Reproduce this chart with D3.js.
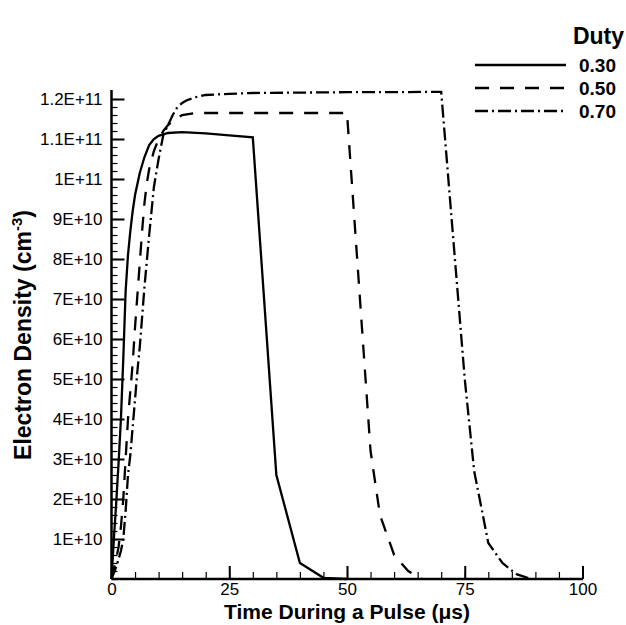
<!DOCTYPE html>
<html><head><meta charset="utf-8">
<script src="https://cdn.jsdelivr.net/npm/d3@7"></script>
<style>
body{margin:0;background:#fff;}
svg{display:block;font-family:"Liberation Sans",Arial,Helvetica,sans-serif;}
</style></head>
<body>
<svg id="c" width="626" height="625"></svg>
<script>
// ---- data ----
const dutyLabels = ["0.30","0.50","0.70"];
const time030 = [0,0.5,1,1.5,2,2.5,3,3.5,4,4.5,5,6,7,8,9,10,12,15,20,25,30,35,40,45,50];
const dens030 = [0,1.0,1.9,2.9,4.0,5.5,7.2,8.1,8.7,9.2,9.6,10.15,10.55,10.85,11.0,11.08,11.15,11.17,11.14,11.09,11.04,2.6,0.4,0.03,0];
const time050 = [0,1,1.5,2,2.5,3,3.5,4,4.5,5,5.5,6,6.5,7,7.5,8,9,10,11,12,13,15,18,20,30,40,50,55,57,60,63,65,66];
const dens050 = [0,0.5,0.8,1.3,2.0,3.0,4.0,4.7,5.4,6.3,7.1,7.9,8.7,9.4,9.9,10.25,10.7,11.0,11.2,11.35,11.45,11.6,11.65,11.65,11.65,11.65,11.65,3.2,1.6,0.6,0.2,0.05,0];
const time070 = [0,1,2,2.5,3,3.5,4,4.5,5,5.5,6,7,8,9,10,11,12,13,14,15,16,18,20,25,30,40,50,60,70,75,77,80,83,86,89];
const dens070 = [0,0.3,0.7,1.0,1.7,2.6,3.1,3.8,4.5,5.2,5.8,7.3,8.6,9.8,10.5,11.1,11.35,11.6,11.8,11.9,11.97,12.05,12.1,12.13,12.15,12.16,12.17,12.17,12.18,5.0,2.7,0.9,0.4,0.12,0];
const yTickValues = [1,2,3,4,5,6,7,8,9,10,11,12]; // in units of 1E+10
const yTickLabels = ["1E+10","2E+10","3E+10","4E+10","5E+10","6E+10","7E+10","8E+10","9E+10","1E+11","1.1E+11","1.2E+11"];
const xTickValues = [0,25,50,75,100];
const xTickLabels = ["0","25","50","75","100"];
const xTitle = "Time During a Pulse (\u03bcs)";
const legendTitle = "Duty";

const series = [
  {label: dutyLabels[0], t: time030, v: dens030, dash: null},
  {label: dutyLabels[1], t: time050, v: dens050, dash: "14,11"},
  {label: dutyLabels[2], t: time070, v: dens070, dash: "13,4,2,4"}
];

const svg = d3.select("#c");
const x = d3.scaleLinear().domain([0,100]).range([111.5,582.5]);
const y = d3.scaleLinear().domain([0,12.2]).range([579,91]);

// minor ticks
const gMinorY = svg.append("g").attr("transform","translate(111.5,0)")
  .call(d3.axisLeft(y).tickValues(d3.range(0,12.01,0.2)).tickSize(-6).tickFormat(""));
const gMinorX = svg.append("g").attr("transform","translate(0,579)")
  .call(d3.axisBottom(x).tickValues(d3.range(0,100.1,5)).tickSize(-7).tickFormat(""));
[gMinorY,gMinorX].forEach(g=>{g.select(".domain").remove(); g.selectAll("line").attr("stroke","#000").attr("stroke-width",1.2);});

// major axes
const gy = svg.append("g").attr("transform","translate(111.5,0)")
  .call(d3.axisLeft(y).tickValues(yTickValues).tickSize(-13).tickPadding(9)
    .tickFormat((d,i)=>yTickLabels[i]));
const gx = svg.append("g").attr("transform","translate(0,579)")
  .call(d3.axisBottom(x).tickValues(xTickValues).tickSize(-13).tickPadding(4)
    .tickFormat((d,i)=>xTickLabels[i]));
[gy,gx].forEach(g=>{
  g.select(".domain").attr("stroke","#000").attr("stroke-width",2.5);
  g.selectAll(".tick line").attr("stroke","#000").attr("stroke-width",2);
  g.selectAll(".tick text").attr("fill","#000").style("font-size","17px").style("font-family","'Liberation Sans',Arial,sans-serif");
});
gy.select(".domain").attr("d","M0,579V90");
gx.select(".domain").attr("d","M111.5,0H583");

// curves
const line = d3.line().x(d=>x(d[0])).y(d=>y(d[1]));
series.forEach(s=>{
  svg.append("path")
    .datum(s.t.map((t,i)=>[t,s.v[i]]))
    .attr("d",line).attr("fill","none").attr("stroke","#000")
    .attr("stroke-width",2.3).attr("stroke-dasharray",s.dash);
});

// titles
svg.append("text").attr("x",347).attr("y",619).attr("text-anchor","middle")
  .style("font-size","21px").style("font-weight","bold").text(xTitle);
const yt = svg.append("text").attr("transform","translate(31,335) rotate(-90)")
  .attr("text-anchor","middle").style("font-size","23px").style("font-weight","bold");
yt.append("tspan").text("Electron Density (cm");
yt.append("tspan").attr("dy",-9).style("font-size","15px").text("-3");
yt.append("tspan").attr("dy",9).text(")");

// legend
svg.append("text").attr("x",624).attr("y",44).attr("text-anchor","end")
  .style("font-size","23px").style("font-weight","bold").text(legendTitle);
const legY = d3.scalePoint().domain(dutyLabels).range([65,111]);
series.forEach(s=>{
  svg.append("line").attr("x1",475).attr("x2",566).attr("y1",legY(s.label)).attr("y2",legY(s.label))
    .attr("stroke","#000").attr("stroke-width",2.3).attr("stroke-dasharray",s.dash);
  svg.append("text").attr("x",579).attr("y",legY(s.label)).attr("dy","0.36em")
    .style("font-size","19px").style("font-weight","bold").text(s.label);
});
</script>
</body></html>
